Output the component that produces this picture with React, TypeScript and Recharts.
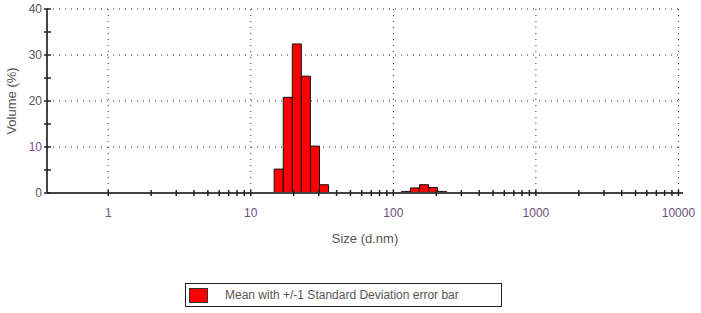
import { BarChart, Bar, XAxis, YAxis, CartesianGrid, Legend } from "recharts";

// Malvern size classes (d.nm) and volume % per class
const sizes = [
  0.4, 0.4632, 0.5365, 0.6213, 0.7195, 0.8332, 0.9649, 1.117, 1.294, 1.499,
  1.736, 2.01, 2.328, 2.696, 3.122, 3.615, 4.187, 4.849, 5.615, 6.503,
  7.531, 8.721, 10.1, 11.7, 13.54, 15.69, 18.17, 21.04, 24.36, 28.21,
  32.67, 37.84, 43.82, 50.75, 58.77, 68.06, 78.82, 91.28, 105.7, 122.4,
  141.8, 164.2, 190.1, 220.2, 255.0, 295.3, 342.0, 396.1, 458.7, 531.2,
  615.1, 712.4, 825.0, 955.4, 1106, 1281, 1484, 1718, 1990, 2305,
  2669, 3091, 3580, 4145, 4801, 5560, 6439, 7456, 8635, 10000,
];
const volumes = [
  0, 0, 0, 0, 0, 0, 0, 0, 0, 0,
  0, 0, 0, 0, 0, 0, 0, 0, 0, 0,
  0, 0, 0, 0, 0, 5.2, 20.8, 32.4, 25.4, 10.2,
  1.8, 0, 0, 0, 0, 0, 0, 0, 0, 0.35,
  1.1, 1.8, 1.2, 0.35, 0, 0, 0, 0, 0, 0,
  0, 0, 0, 0, 0, 0, 0, 0, 0, 0,
  0, 0, 0, 0, 0, 0, 0, 0, 0, 0,
];

const majorX = [1, 10, 100, 1000, 10000];
const minorX = [
  2, 3, 4, 5, 6, 7, 8, 9,
  20, 30, 40, 50, 60, 70, 80, 90,
  200, 300, 400, 500, 600, 700, 800, 900,
  2000, 3000, 4000, 5000, 6000, 7000, 8000, 9000,
];
const majorY = [0, 10, 20, 30, 40];
const minorY = [5, 15, 25, 35];

const legendText = "Mean with +/-1 Standard Deviation error bar";

const data = sizes.map((size, i) => ({ size, volume: volumes[i] }));

const font = '"Liberation Sans", Arial, sans-serif';

function XTick({ x, y, payload }: any) {
  const major = majorX.includes(payload.value);
  return (
    <g>
      <line x1={x} x2={x} y1={y - 3} y2={y + 3} stroke="#222" strokeWidth={1.5} />
      {major && (
        <text x={x} y={y + 24} textAnchor="middle" fontSize={12} fontFamily={font} fill="#6b4f7b">
          {payload.value}
        </text>
      )}
    </g>
  );
}

function YTick({ x, y, payload }: any) {
  const major = majorY.includes(payload.value);
  return (
    <g>
      <line x1={x - 3} x2={x + 4} y1={y} y2={y} stroke="#222" strokeWidth={1.5} />
      {major && (
        <text x={x - 5} y={y + 4} textAnchor="end" fontSize={12} fontFamily={font}
          fill={payload.value === 10 ? "#7a4f8a" : "#555"}>
          {payload.value}
        </text>
      )}
    </g>
  );
}

function LegendBox() {
  return (
    <div
      style={{
        boxSizing: "border-box",
        width: 317,
        height: 24,
        border: "1px solid #222",
        display: "flex",
        alignItems: "center",
        fontFamily: font,
        fontSize: 12,
        color: "#555",
      }}
    >
      <span
        style={{
          display: "inline-block",
          width: 17,
          height: 13,
          background: "#ff0000",
          border: "1px solid #333",
          marginLeft: 3,
        }}
      />
      <span style={{ marginLeft: 17 }}>{legendText}</span>
    </div>
  );
}

export default function App() {
  return (
    <div style={{ width: 701, height: 313, background: "#fff" }}>
      <style>{"body{margin:0}"}</style>
      <BarChart
        width={701}
        height={313}
        data={data}
        barCategoryGap={0}
        margin={{ top: 9, right: 18, left: 0, bottom: 6 }}
      >
        <CartesianGrid
          stroke="#333"
          strokeDasharray="1 5"
          verticalValues={majorX}
          horizontalValues={[10, 20, 30, 40]}
        />
        <XAxis
          dataKey="size"
          type="number"
          scale="log"
          domain={[0.372, 10760]}
          allowDataOverflow
          ticks={[...majorX, ...minorX]}
          interval={0}
          tickSize={0}
          tickMargin={0}
          tick={<XTick />}
          height={90}
          axisLine={{ stroke: "#444", strokeWidth: 2 }}
          label={{
            content: ({ viewBox }: any) => (
              <text
                x={viewBox.x + viewBox.width / 2}
                y={viewBox.y + 50}
                textAnchor="middle"
                fontSize={13}
                fontFamily={font}
                fill="#555"
              >
                Size (d.nm)
              </text>
            ),
          }}
        />
        <YAxis
          type="number"
          domain={[0, 40]}
          ticks={[...majorY, ...minorY]}
          interval={0}
          width={47}
          tickSize={0}
          tickMargin={0}
          tick={<YTick />}
          axisLine={{ stroke: "#444", strokeWidth: 2 }}
          label={{
            content: ({ viewBox }: any) => {
              const cx = viewBox.x + 13;
              const cy = viewBox.y + viewBox.height / 2;
              return (
                <text
                  transform={`translate(${cx},${cy}) rotate(-90)`}
                  textAnchor="middle"
                  dominantBaseline="middle"
                  fontSize={13}
                  fontFamily={font}
                  fill="#555"
                >
                  Volume (%)
                </text>
              );
            },
          }}
        />
        <Legend
          verticalAlign="bottom"
          align="left"
          wrapperStyle={{ left: 185, width: 317 }}
          content={<LegendBox />}
        />
        <Bar
          dataKey="volume"
          fill="#ff0000"
          stroke="#111"
          strokeWidth={1}
          isAnimationActive={false}
        />
      </BarChart>
    </div>
  );
}
